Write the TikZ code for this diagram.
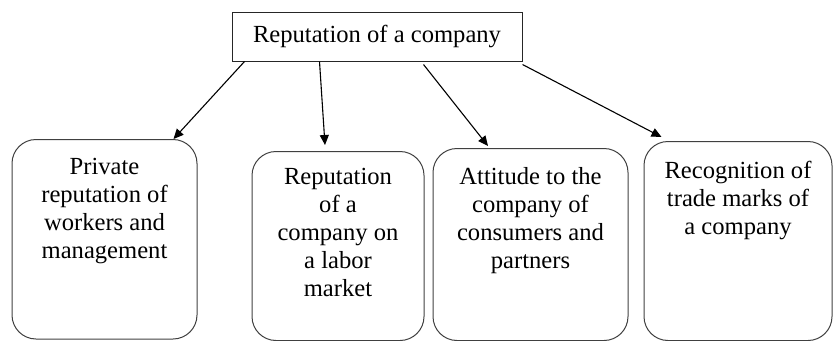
\documentclass[tikz,border=0pt]{standalone}
\usepackage{fontspec}
\setmainfont{LiberationSerif}[Extension=.ttf, UprightFont=*-Regular, BoldFont=*-Bold, ItalicFont=*-Italic, BoldItalicFont=*-BoldItalic]
\usetikzlibrary{arrows.meta,positioning}

\begin{document}
\begin{tikzpicture}[
    x=1pt, y=-1pt,
    font=\rmfamily\fontsize{24.6}{28}\selectfont,
    head/.style={rectangle, draw=black!85, line width=1pt, minimum width=290pt, minimum height=49pt},
    card/.style={rectangle, draw=black!75, line width=1pt, rounded corners=24pt, anchor=north},
    cardtext/.style={align=center, inner sep=0pt},
    arrow/.style={-{Triangle[length=10pt,width=9pt]}, line width=1.1pt}
]
\useasboundingbox (0,0) rectangle (835,340);

% Top level
\node[head] (rep) at (377,36.5) {Reputation of a company};

% Lower level boxes
\node[card, minimum width=185pt, minimum height=199.5pt] (private) at (104.5,139) {};
\node[card, minimum width=172pt, minimum height=189pt] (labor) at (338,151) {};
\node[card, minimum width=195pt, minimum height=192pt] (attitude) at (530.5,148) {};
\node[card, minimum width=188pt, minimum height=199pt] (recog) at (738,141) {};

% Box texts
\node[cardtext, below=19.5pt of private.north] (private-t) {Private\\reputation of\\workers and\\management};
\node[cardtext, below=17.5pt of labor.north] (labor-t) {Reputation\\of a\\company on\\a labor\\market};
\node[cardtext, below=19.5pt of attitude.north] (attitude-t) {Attitude to the\\company of\\consumers and\\partners};
\node[cardtext, below=19.5pt of recog.north] (recog-t) {Recognition of\\trade marks of\\a company};

% Connections
\draw[arrow] ([xshift=13pt]rep.south west) -- ([xshift=-24pt]private.north east);
\draw[arrow] ([xshift=88pt]rep.south west) -- ([xshift=-13pt,yshift=6pt]labor.north);
\draw[arrow] ([xshift=-99pt,yshift=-3pt]rep.south east) -- ([xshift=-42.5pt,yshift=2pt]attitude.north);
\draw[arrow] ([yshift=-3pt]rep.south east) -- ([xshift=18pt,yshift=4pt]recog.north west);

\end{tikzpicture}
\end{document}
